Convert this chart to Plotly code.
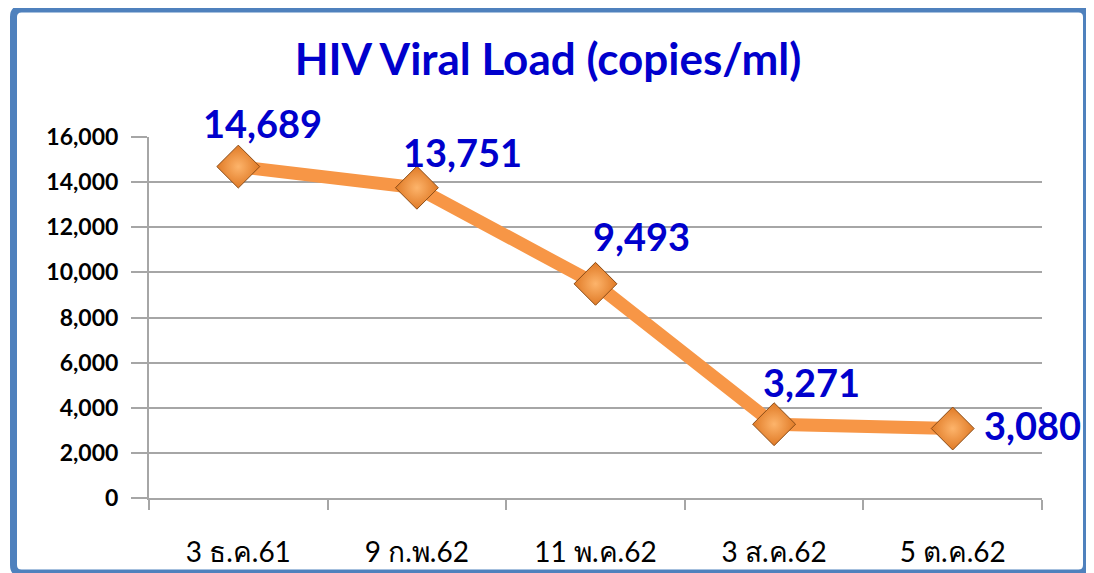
import plotly.graph_objects as go

# data
dates = ["3 ธ.ค.61", "9 ก.พ.62", "11 พ.ค.62", "3 ส.ค.62", "5 ต.ค.62"]
viral_load = [14689, 13751, 9493, 3271, 3080]
y_ticks = [0, 2000, 4000, 6000, 8000, 10000, 12000, 14000, 16000]

# label offsets (pixels) relative to each point
label_dx = [24, 46, 46, 37, 80]
label_dy = [44, 36, 48, 42, 4]

BLUE_TXT = "#0000CC"
ORANGE = "#F79646"
GRID = "#A6A6A6"
FONT = "Lato, 'Noto Sans', 'DejaVu Sans', sans-serif"

# page body has an 8px margin; the figure runs past the window on right/bottom
W, H = 1094, 573

fig = go.Figure()
fig.add_trace(go.Scatter(
    x=dates, y=viral_load, mode="lines+markers",
    line=dict(color=ORANGE, width=13),
    marker=dict(symbol="diamond", size=33, color="#E07A26",
                gradient=dict(type="radial", color="#FDB46B"),
                line=dict(color="#8A4B16", width=1)),
    showlegend=False, hoverinfo="x+y",
))

for d, v, dx, dy in zip(dates, viral_load, label_dx, label_dy):
    fig.add_annotation(x=d, y=v, text=f"{v:,}", showarrow=False,
                       xshift=dx, yshift=dy,
                       font=dict(family=FONT, size=38, color=BLUE_TXT, weight="bold"))

# blue rounded frame around the chart (pixel offsets from the plot's bottom-left)
x0, x1, y0, y1, r = -135.5, 937.5, -75, 489, 8
frame = (f"M{x0 + r},{y1} L{x1 - r},{y1} Q{x1},{y1} {x1},{y1 - r} "
         f"L{x1},{y0 + r} Q{x1},{y0} {x1 - r},{y0} L{x0 + r},{y0} "
         f"Q{x0},{y0} {x0},{y0 + r} L{x0},{y1 - r} Q{x0},{y1} {x0 + r},{y1} Z")
fig.add_shape(type="path", path=frame, xref="paper", yref="paper",
              xsizemode="pixel", ysizemode="pixel", xanchor=0, yanchor=0,
              line=dict(color="#4F81BD", width=7), layer="below")

fig.update_layout(
    width=W, height=H,
    margin=dict(l=141, r=60, t=129, b=83),
    paper_bgcolor="white", plot_bgcolor="white",
    title=dict(text="<b>HIV Viral Load (copies/ml)</b>", x=(548 - 8) / W, xanchor="center",
               y=1 - 52 / H, yanchor="middle", automargin=False,
               font=dict(family=FONT, size=44, color=BLUE_TXT)),
    xaxis=dict(range=[-0.5, len(dates) - 0.5], automargin=False,
               showgrid=False, showline=True, linecolor=GRID, linewidth=2,
               ticks="outside", tickson="boundaries", ticklen=10, tickwidth=2,
               tickcolor=GRID, ticklabelstandoff=28,
               tickfont=dict(family=FONT, size=28, color="black")),
    yaxis=dict(range=[0, 16000], tickvals=y_ticks, tickformat=",", automargin=False,
               showgrid=True, gridcolor=GRID, gridwidth=2,
               showline=True, linecolor=GRID, linewidth=2,
               ticks="outside", ticklen=16, tickwidth=2, tickcolor=GRID,
               ticklabelstandoff=8, zeroline=False,
               tickfont=dict(family=FONT, size=23, color="black", weight="bold")),
)

fig.write_html("out.html")
